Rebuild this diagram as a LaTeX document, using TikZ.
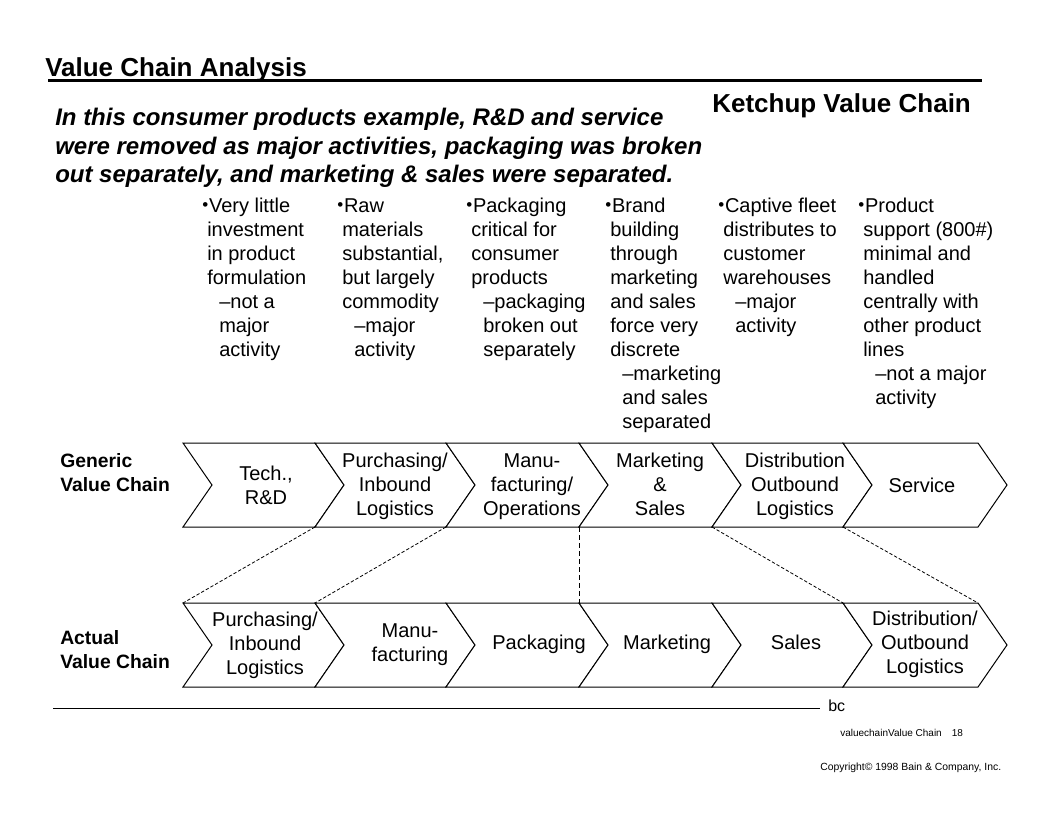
\documentclass[tikz,border=0pt]{standalone}
\usepackage{fontspec}
\setmainfont{Liberation Sans}
\newcommand\mybul{\raisebox{0.1em}{\scalebox{0.85}{•}}\hspace{0.6pt}}
\newcommand\myci{\hspace*{3.75pt}}
\newcommand\mysi{\hspace*{12.75pt}}
\begin{document}
\begin{tikzpicture}[x=0.75pt,y=-0.75pt,
  chev/.style={draw=black,line width=0.75pt,fill=white,line join=miter},
  lbl/.style={font=\fontsize{15}{18}\selectfont,align=center,inner sep=0pt},
  col/.style={font=\fontsize{15}{18}\selectfont,align=left,anchor=north west,inner sep=0pt},
  side/.style={font=\bfseries\fontsize{14.5}{18}\selectfont,align=left,anchor=north west,inner sep=0pt},
  link/.style={draw=black,line width=0.6pt,dash pattern=on 2.5pt off 1.5pt},
  vlink/.style={draw=black,line width=0.6pt,dash pattern=on 3.5pt off 2.5pt},
]
\useasboundingbox (0,0) rectangle (1056,816);
\fill[white] (0,0) rectangle (1056,816);

% title
\node[anchor=base west,inner sep=0pt,font=\bfseries\fontsize{19.5}{23}\selectfont] (title) at (45,77) {Value Chain Analysis};
\draw[line width=2.25pt] (48,81) coordinate (r1) -- (982,81) coordinate (r2);
\node[anchor=base west,inner sep=0pt,font=\bfseries\fontsize{19.5}{23}\selectfont] (ketchup) at (712,113) {Ketchup Value Chain};
\node[anchor=north west,inner sep=0pt,align=left,font=\bfseries\itshape\fontsize{18}{21.4}\selectfont] (intro) at (55,108)
  {In this consumer products example, R\&D and service\\were removed as major activities, packaging was broken\\out separately, and marketing \& sales were separated.};

% bullet columns
\node[col] (c1) at (202,198) {\mybul Very little\\\myci investment\\\myci in product\\\myci formulation\\\mysi –not a\\\mysi major\\\mysi activity};
\node[col] (c2) at (337,198) {\mybul Raw\\\myci materials\\\myci substantial,\\\myci but largely\\\myci commodity\\\mysi –major\\\mysi activity};
\node[col] (c3) at (466,198) {\mybul Packaging\\\myci critical for\\\myci consumer\\\myci products\\\mysi –packaging\\\mysi broken out\\\mysi separately};
\node[col] (c4) at (605,198) {\mybul Brand\\\myci building\\\myci through\\\myci marketing\\\myci and sales\\\myci force very\\\myci discrete\\\mysi –marketing\\\mysi and sales\\\mysi separated};
\node[col] (c5) at (718,198) {\mybul Captive fleet\\\myci distributes to\\\myci customer\\\myci warehouses\\\mysi –major\\\mysi activity};
\node[col] (c6) at (858,198) {\mybul Product\\\myci support (800\#)\\\myci minimal and\\\myci handled\\\myci centrally with\\\myci other product\\\myci lines\\\mysi –not a major\\\mysi activity};

% side labels
\node[side] (gen) at (60,453) {Generic\\Value Chain};
\node[side] (act) at (60,630) {Actual\\Value Chain};

% chevron coordinates
\foreach \x [count=\i from 0] in {183,315,446,579,712,843,978} {
  \coordinate (gt\i) at (\x,443);
  \coordinate (gb\i) at (\x,527);
  \coordinate (gm\i) at (\x+29,485);
  \coordinate (at\i) at (\x,603);
  \coordinate (ab\i) at (\x,687);
  \coordinate (am\i) at (\x+29,645);
}
\foreach \i [evaluate=\i as \j using int(\i+1)] in {0,...,5} {
  \draw[chev] (gt\i) -- (gt\j) -- (gm\j) -- (gb\j) -- (gb\i) -- (gm\i) -- cycle;
  \draw[chev] (at\i) -- (at\j) -- (am\j) -- (ab\j) -- (ab\i) -- (am\i) -- cycle;
}

% generic labels
\node[lbl] (g1) at (266,488) {\strut Tech.,\\\strut R\&D};
\node[lbl] (g2) at (395,487) {\strut Purchasing/\\\strut Inbound\\\strut Logistics};
\node[lbl] (g3) at (532,487) {\strut Manu-\\\strut facturing/\\\strut Operations};
\node[lbl] (g4) at (660,487) {\strut Marketing\\\strut \&\\\strut Sales};
\node[lbl] (g5) at (795,487) {\strut Distribution\\\strut Outbound\\\strut Logistics};
\node[lbl] (g6) at (922,488) {\strut Service};

% actual labels
\node[lbl] (a1) at (265,646) {\strut Purchasing/\\\strut Inbound\\\strut Logistics};
\node[lbl] (a2) at (410,645) {\strut Manu-\\\strut facturing};
\node[lbl] (a3) at (539,645) {\strut Packaging};
\node[lbl] (a4) at (667,645) {\strut Marketing};
\node[lbl] (a5) at (796,645) {\strut Sales};
\node[lbl] (a6) at (925,645) {\strut Distribution/\\\strut Outbound\\\strut Logistics};

% mapping lines
\draw[link] (gb1) -- (at0);
\draw[link] (gb2) -- (at1);
\draw[vlink] (gb3) -- (at3);
\draw[link] (gb4) -- (at5);
\draw[link] (gb5) -- (at6);

% footer
\draw[line width=0.75pt] (53,708) coordinate (f1) -- (820,708) coordinate (f2);
\node[anchor=base west,inner sep=0pt,font=\fontsize{12}{14}\selectfont] (bc) at (828,711) {bc};
\node[anchor=base west,inner sep=0pt,font=\fontsize{7.5}{9}\selectfont] (pg) at (840,736) {valuechainValue Chain\quad 18};
\node[anchor=base west,inner sep=0pt,font=\fontsize{7.8}{9}\selectfont] (copy) at (820,770) {Copyright© 1998 Bain \& Company, Inc.};
\end{tikzpicture}
\end{document}
